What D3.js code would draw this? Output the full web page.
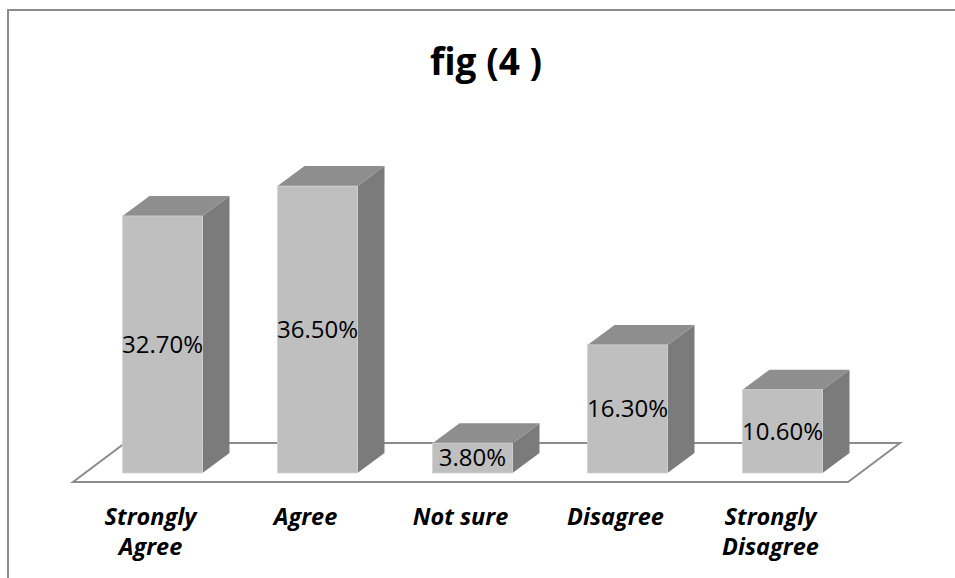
<!DOCTYPE html>
<html>
<head>
<meta charset="utf-8">
<script src="https://cdn.jsdelivr.net/npm/d3@7"></script>
<style>
  html, body { margin: 0; padding: 0; background: #ffffff; }
  svg { display: block; }
</style>
</head>
<body>
<svg id="chart" width="955" height="578"></svg>
<script>
// Survey responses, share of respondents (%)
const categories = ["Strongly Agree", "Agree", "Not sure", "Disagree", "Strongly Disagree"];
const values = [32.7, 36.5, 3.8, 16.3, 10.6];
const valueLabels = ["32.70%", "36.50%", "3.80%", "16.30%", "10.60%"];
const categoryLines = [["Strongly", "Agree"], ["Agree"], ["Not sure"], ["Disagree"], ["Strongly", "Disagree"]];
const title = "fig (4 )";

const W = 955, H = 578;
const svg = d3.select("#chart");

// Chart frame (only the top and left edges fall inside the view)
svg.append("path")
  .attr("d", `M8,${H + 5} L8,10 L${W + 5},10`)
  .attr("fill", "none")
  .attr("stroke", "#8c8c8c")
  .attr("stroke-width", 2);

// Title
svg.append("text")
  .attr("x", 486)
  .attr("y", 75)
  .attr("text-anchor", "middle")
  .style("font-family", "'Open Sans', sans-serif")
  .style("font-weight", 700)
  .style("font-size", "37px")
  .attr("fill", "#000")
  .text(title);

// Oblique projection of the 3D floor
const floorFrontY = 482;
const floorDepth = { dx: 52, dy: -39 };      // full depth of the floor
const barOffset = { dx: 12, dy: -9 };        // bar front plane inside the floor
const barDepth = { dx: 27, dy: -20 };        // bar thickness

const x = d3.scaleBand()
  .domain(categories)
  .range([73, 848])
  .paddingInner(0.484)
  .paddingOuter(0.242);

const slot = d3.scaleBand().domain(categories).range([73, 848]);

const baseY = floorFrontY + barOffset.dy;    // bottom of bar front faces
const y = d3.scaleLinear().domain([0, 40]).range([baseY, baseY - 314.4]);

// Floor
const fl = slot.range()[0], fr = slot.range()[1];
svg.append("path")
  .attr("d", `M${fl},${floorFrontY} L${fr},${floorFrontY} L${fr + floorDepth.dx},${floorFrontY + floorDepth.dy} L${fl + floorDepth.dx},${floorFrontY + floorDepth.dy} Z`)
  .attr("fill", "#ffffff")
  .attr("stroke", "#8c8c8c")
  .attr("stroke-width", 2)
  .attr("stroke-linejoin", "miter");

const data = categories.map((c, i) => ({ c, v: values[i], label: valueLabels[i], lines: categoryLines[i] }));

const bars = svg.append("g").selectAll("g.bar")
  .data(data)
  .join("g")
  .attr("class", "bar");

bars.each(function (d) {
  const g = d3.select(this);
  const x0 = x(d.c) + barOffset.dx;
  const x1 = x0 + x.bandwidth();
  const yt = y(d.v);
  const yb = y(0);
  const dx = barDepth.dx, dy = barDepth.dy;

  // side face
  g.append("path")
    .attr("d", `M${x1},${yb} L${x1 + dx},${yb + dy} L${x1 + dx},${yt + dy} L${x1},${yt} Z`)
    .attr("fill", "#7b7b7b");
  // top face
  g.append("path")
    .attr("d", `M${x0},${yt} L${x0 + dx},${yt + dy} L${x1 + dx},${yt + dy} L${x1},${yt} Z`)
    .attr("fill", "#8e8e8e");
  // front face
  g.append("rect")
    .attr("x", x0)
    .attr("y", yt)
    .attr("width", x1 - x0)
    .attr("height", yb - yt)
    .attr("fill", "#bfbfbf")
    .attr("stroke", "#d2d2d2")
    .attr("stroke-width", 0.8);

  // value label, centred on the front face
  g.append("text")
    .attr("x", (x0 + x1) / 2)
    .attr("y", (yt + yb) / 2)
    .attr("dy", "0.35em")
    .attr("text-anchor", "middle")
    .style("font-family", "'Open Sans', sans-serif")
    .style("font-size", "24px")
    .attr("fill", "#000")
    .text(d.label);
});

// Category labels along the front edge of the floor
const cat = svg.append("g").selectAll("text")
  .data(data)
  .join("text")
  .attr("x", d => slot(d.c) + slot.bandwidth() / 2)
  .attr("y", 525)
  .attr("text-anchor", "middle")
  .style("font-family", "'Open Sans', sans-serif")
  .style("font-weight", 700)
  .style("font-style", "italic")
  .style("font-size", "23.5px")
  .attr("fill", "#000");

cat.selectAll("tspan")
  .data(d => d.lines.map((l, i) => ({ l, i, cx: slot(d.c) + slot.bandwidth() / 2 })))
  .join("tspan")
  .attr("x", t => t.cx)
  .attr("dy", t => t.i === 0 ? 0 : 30)
  .text(t => t.l);
</script>
</body>
</html>
